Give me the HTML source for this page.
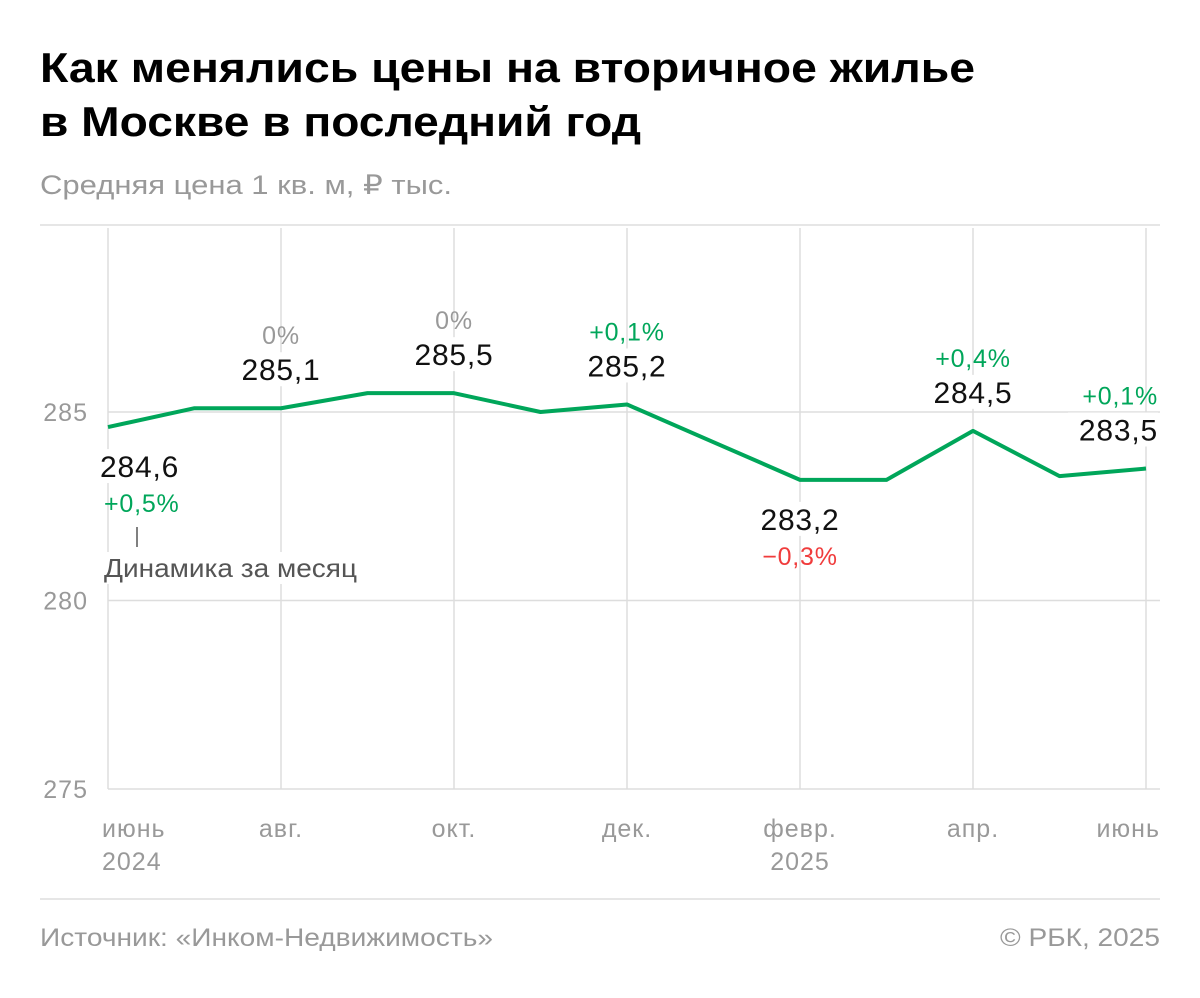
<!DOCTYPE html>
<html><head><meta charset="utf-8"><style>
body{margin:0;background:#fff;width:1200px;height:993px;overflow:hidden;font-family:"Liberation Sans",sans-serif}
</style></head><body>
<svg width="1200" height="993" font-family="Liberation Sans, sans-serif">
<text x="40" y="82" font-size="42" font-weight="bold" fill="#000" textLength="935" lengthAdjust="spacingAndGlyphs">Как менялись цены на вторичное жилье</text>
<text x="40" y="136" font-size="42" font-weight="bold" fill="#000" textLength="601" lengthAdjust="spacingAndGlyphs">в Москве в последний год</text>
<text x="40" y="194" font-size="27" fill="#999" textLength="412" lengthAdjust="spacingAndGlyphs">Средняя цена 1 кв. м, ₽ тыс.</text>
<line x1="40" y1="225" x2="1160" y2="225" stroke="#ddd" stroke-width="1.5"/>
<g id="grid"></g>
<g id="series"></g>
<g id="labels"></g>
<line x1="40" y1="899" x2="1160" y2="899" stroke="#ddd" stroke-width="1.5"/>
<text x="40" y="946" font-size="25" fill="#999" textLength="453" lengthAdjust="spacingAndGlyphs">Источник: «Инком-Недвижимость»</text>
<text x="1000" y="946" font-size="25" fill="#999" textLength="160" lengthAdjust="spacingAndGlyphs">© РБК, 2025</text>
</svg>
<script>
const months=["июнь","июль","авг.","сент.","окт.","нояб.","дек.","янв.","февр.","март","апр.","май","июнь"];
const values=[284.6,285.1,285.1,285.5,285.5,285.0,285.2,284.2,283.2,283.2,284.5,283.3,283.5];
const yTicks=[285,280,275];
const tickMonths=[0,2,4,6,8,10,12];
const tickLabels=["июнь","авг.","окт.","дек.","февр.","апр.","июнь"];
const yearLabels=["2024","","","","2025","",""];
const labelIdx=[0,2,4,6,8,10,12];
const changes=["+0,5%","0%","0%","+0,1%","−0,3%","+0,4%","+0,1%"];
const ns="http://www.w3.org/2000/svg";
const x=i=>108+i*(1146-108)/(months.length-1);
const y=v=>412+(285-v)*37.7;
function mk(tag,attrs,parent,text){const e=document.createElementNS(ns,tag);for(const k in attrs)e.setAttribute(k,attrs[k]);if(text!==undefined)e.textContent=text;document.getElementById(parent).appendChild(e);return e;}
yTicks.forEach(t=>{
 const l=mk('line',{x1:108,x2:1160,y1:y(t),y2:y(t),stroke:'#ddd','stroke-width':1.5},'grid');
 
 
 const tx=mk('text',{x:88,y:y(t)+9,'font-size':25,'letter-spacing':1,fill:'#999','text-anchor':'end'},'grid',String(t));
 
 
});
tickMonths.forEach((m,k)=>{
 const l=mk('line',{x1:x(m),x2:x(m),y1:228,y2:y(275),stroke:'#ddd','stroke-width':1.5},'grid');
 
 
 const anchor=k==0?'start':(k==tickMonths.length-1?'end':'middle');
 const xx=k==0?102:(k==tickMonths.length-1?1160:x(m));
 const t=mk('text',{x:xx,y:837,'font-size':25,'letter-spacing':1,fill:'#999','text-anchor':anchor},'grid',tickLabels[k]);
 
 
 if(yearLabels[k]){const t2=mk('text',{x:xx,y:870,'font-size':25,'letter-spacing':1,fill:'#999','text-anchor':anchor},'grid',yearLabels[k]);
 
 }
});
const p=mk('polyline',{points:values.map((v,i)=>x(i)+','+y(v)).join(' '),fill:'none',stroke:'#00a65a','stroke-width':4,'stroke-linejoin':'round'},'series');


const fmt=v=>v.toFixed(1).replace('.',',');
labelIdx.forEach((i,k)=>{
 const v=values[i];const below=(i==0||i==8);
 const anchor=i==0?'start':(i==12?'end':'middle');const xx=i==0?100:(i==12?1158:x(i));
 const col=changes[k].startsWith('−')?'#f03c3c':(changes[k]=='0%'?'#999':'#00a65a');
 let vy,cy;
 if(below){vy=y(v)+50;cy=vy+35;}else{vy=y(v)-28;cy=vy-36;}
 const bg=mk('rect',{x:(anchor=='start'?xx:anchor=='end'?xx-90:xx-45),y:vy-28,width:90,height:34,fill:'#fff'},'labels');
 
 
 const t=mk('text',{x:xx,y:vy,'font-size':30,'letter-spacing':0.8,fill:'#111','text-anchor':anchor},'labels',fmt(v));
 
 
 const c=mk('text',{x:i==0?104:xx,y:cy,'font-size':25,'letter-spacing':0.8,fill:col,'text-anchor':anchor},'labels',changes[k]);
 
 
});
const tk=mk('line',{x1:137,x2:137,y1:527,y2:547,stroke:'#555','stroke-width':1.5},'labels');


const bg2=mk('rect',{x:100,y:552,width:262,height:32,fill:'#fff'},'labels');


const an=mk('text',{x:104,y:577,'font-size':26,fill:'#555',textLength:253,lengthAdjust:'spacingAndGlyphs'},'labels','Динамика за месяц');


</script>
</body></html>
